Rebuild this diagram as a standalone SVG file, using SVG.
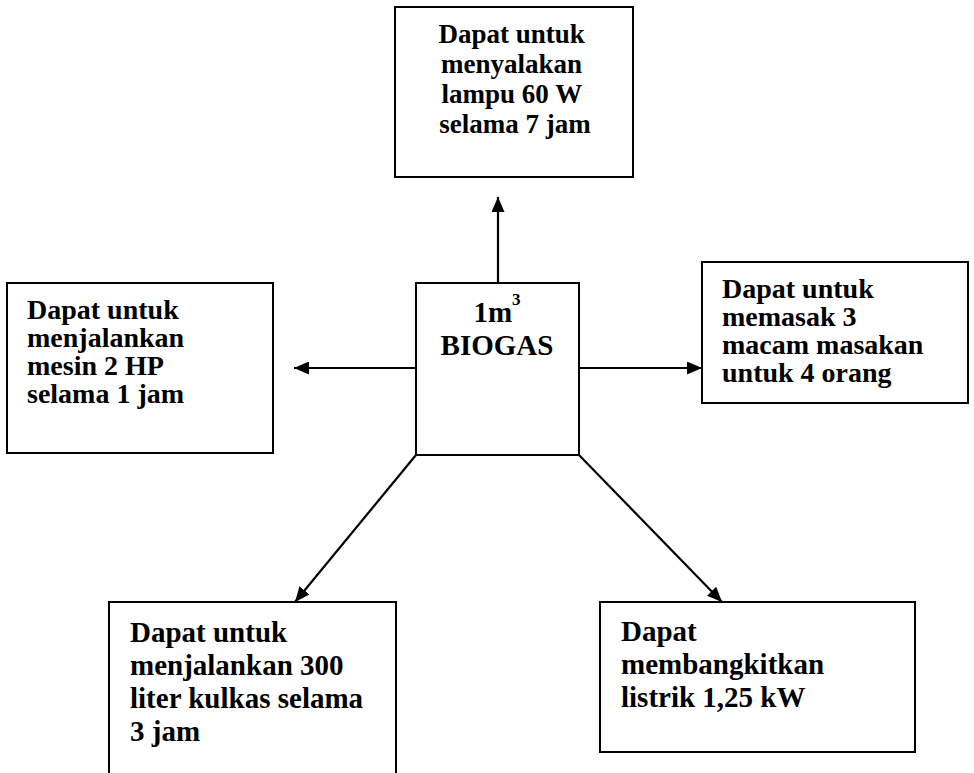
<svg xmlns="http://www.w3.org/2000/svg" width="974" height="773" viewBox="0 0 974 773">
<style>
.box{fill:#fff;stroke:#000;stroke-width:2}
.t{font-family:"Liberation Serif","Times New Roman",serif;font-weight:bold;fill:#000}
.c{stroke:#000;stroke-width:2.2;fill:none}
</style>
<defs>
<marker id="ah" viewBox="0 0 15 13" refX="15" refY="6.5" markerWidth="15" markerHeight="13" markerUnits="userSpaceOnUse" orient="auto">
<path d="M0,0 L15,6.5 L0,13 Z" fill="#000"/>
</marker>
</defs>
<rect width="974" height="773" fill="#fff"/>
<g id="connectors">
<line class="c" x1="498" y1="283" x2="498" y2="197" marker-end="url(#ah)"/>
<line class="c" x1="416" y1="368" x2="294" y2="368" marker-end="url(#ah)"/>
<line class="c" x1="579" y1="368" x2="702" y2="368" marker-end="url(#ah)"/>
<line class="c" x1="416" y1="455" x2="295" y2="602" marker-end="url(#ah)"/>
<line class="c" x1="579" y1="455" x2="722" y2="602" marker-end="url(#ah)"/>
</g>
<g id="center">
<rect class="box" x="416" y="283" width="163" height="172"/>
<text class="t" x="497" y="322" font-size="29" text-anchor="middle">1m<tspan font-size="17" dy="-17">3</tspan></text>
<text class="t" x="497" y="355" font-size="29" text-anchor="middle">BIOGAS</text>
</g>
<g id="top">
<rect class="box" x="395" y="7" width="238" height="170"/>
<text class="t" font-size="27" text-anchor="middle">
<tspan x="515" y="43">Dapat untuk</tspan>
<tspan x="515" y="73">menyalakan</tspan>
<tspan x="515" y="103">lampu 60 W</tspan>
<tspan x="515" y="133">selama 7 jam</tspan>
</text>
</g>
<g id="left">
<rect class="box" x="7" y="283" width="266" height="170"/>
<text class="t" font-size="28">
<tspan x="27" y="319">Dapat untuk</tspan>
<tspan x="27" y="347">menjalankan</tspan>
<tspan x="27" y="375">mesin 2 HP</tspan>
<tspan x="27" y="403">selama 1 jam</tspan>
</text>
</g>
<g id="right">
<rect class="box" x="702" y="262" width="266" height="141"/>
<text class="t" font-size="28">
<tspan x="722" y="298">Dapat untuk</tspan>
<tspan x="722" y="326">memasak 3</tspan>
<tspan x="722" y="354">macam masakan</tspan>
<tspan x="722" y="382">untuk 4 orang</tspan>
</text>
</g>
<g id="bottom-left">
<rect class="box" x="109" y="602" width="287" height="180"/>
<text class="t" font-size="29">
<tspan x="130" y="642">Dapat untuk</tspan>
<tspan x="130" y="675">menjalankan 300</tspan>
<tspan x="130" y="708">liter kulkas selama</tspan>
<tspan x="130" y="741">3 jam</tspan>
</text>
</g>
<g id="bottom-right">
<rect class="box" x="600" y="602" width="315" height="150"/>
<text class="t" font-size="29">
<tspan x="621" y="641">Dapat</tspan>
<tspan x="621" y="674">membangkitkan</tspan>
<tspan x="621" y="707">listrik 1,25 kW</tspan>
</text>
</g>
</svg>
